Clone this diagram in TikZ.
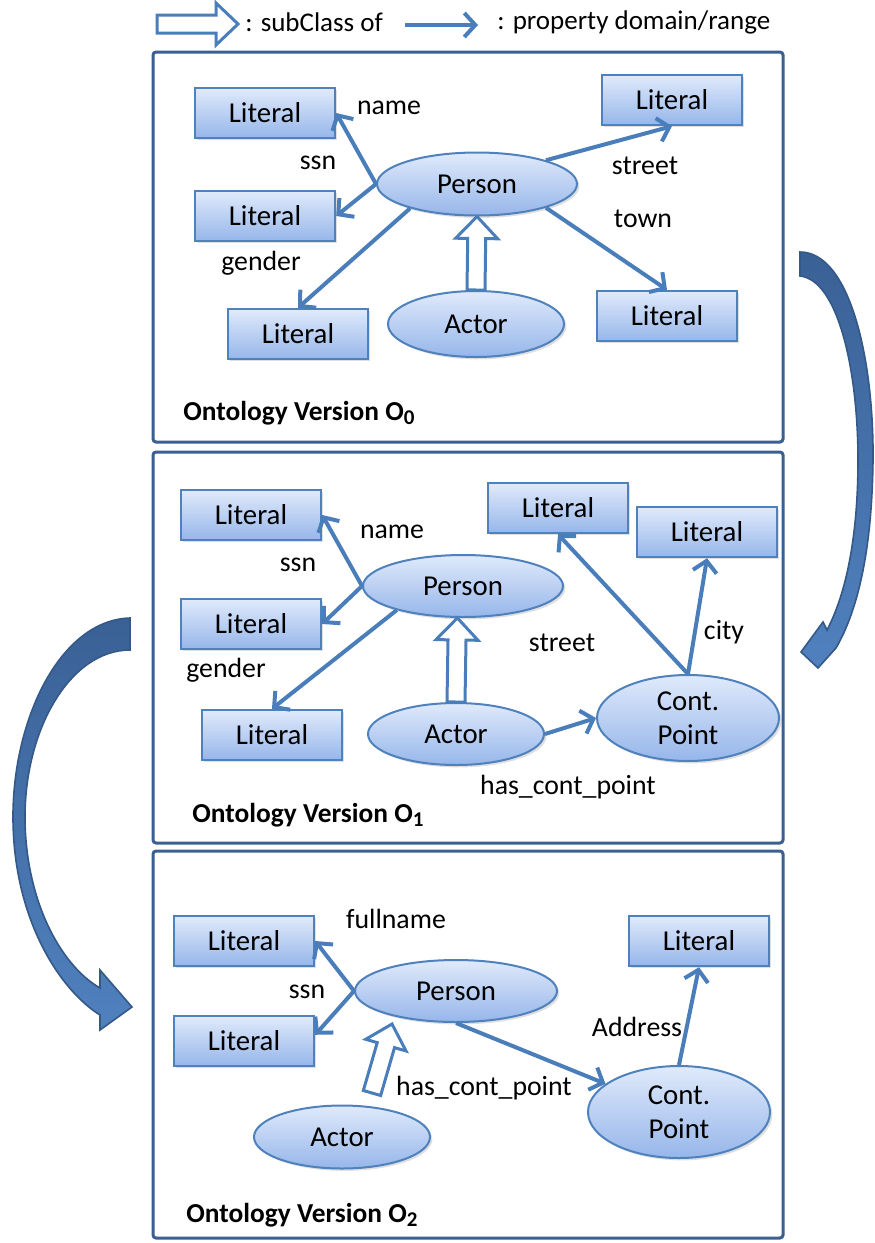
\documentclass[tikz,border=0pt]{standalone}
\usepackage{fontspec}
\setmainfont{Carlito}
\usetikzlibrary{shapes.geometric,arrows.meta,calc,shadows}
\definecolor{panel}{RGB}{59,95,145}
\definecolor{boxline}{RGB}{79,129,189}
\definecolor{boxtop}{RGB}{224,234,251}
\definecolor{boxbot}{RGB}{150,182,234}
\definecolor{edge}{RGB}{74,126,187}
\definecolor{bigtop}{RGB}{58,97,150}
\definecolor{bigbot}{RGB}{80,129,190}
\definecolor{bigline}{RGB}{52,88,135}
\newcommand\subarrow[2]{%
  \path (#1) coordinate (sa) (#2) coordinate (ta);
  \path ($(ta)!11pt!(sa)$) coordinate (ha);
  \draw[subcls] ($(sa)!4.5pt!90:(ta)$) -- ($(ha)!4.5pt!90:(ta)$) -- ($(ha)!10.5pt!90:(ta)$) -- (ta)
    -- ($(ha)!10.5pt!-90:(ta)$) -- ($(ha)!4.5pt!-90:(ta)$) -- ($(sa)!4.5pt!-90:(ta)$) -- cycle;}
\tikzset{
  lit/.style={draw=boxline, line width=1.2pt, top color=boxtop, bottom color=boxbot,
    minimum width=70pt, minimum height=25pt, inner sep=0pt, font=\fontsize{14.4pt}{17pt}\selectfont,
    drop shadow={opacity=0.25, shadow xshift=1.2pt, shadow yshift=-1.2pt}},
  cls/.style={ellipse, draw=boxline, line width=1pt, top color=boxtop, bottom color=boxbot,
    inner sep=0pt, align=center, font=\fontsize{14.4pt}{17pt}\selectfont,
    drop shadow={opacity=0.25, shadow xshift=1.2pt, shadow yshift=-1.2pt}},
  rel/.style={draw=edge, line width=2pt, -{Straight Barb[length=5.5pt,width=12pt]}},
  lbl/.style={inner sep=0pt},
  frame/.style={draw=panel, line width=1.5pt, rounded corners=1.5pt},
  subcls/.style={draw=edge, fill=white, line width=1.5pt, line join=miter},
  big/.style={draw=bigline, line width=0.8pt, top color=bigtop, bottom color=bigbot},
  ttl/.style={inner sep=0pt, anchor=west, font=\fontsize{13.7pt}{17pt}\selectfont\bfseries}
}
\newcommand\sub[1]{\raisebox{-0.3ex}{\fontsize{10.5pt}{12pt}\selectfont #1}}
\begin{document}
\begin{tikzpicture}[x=0.5pt, y=0.5pt, font=\fontsize{13.9pt}{17pt}\selectfont]
\useasboundingbox (0,0) rectangle (874,-1243);

% legend
\coordinate (lh1) at (157,-24);
\coordinate (lh2) at (238,-24);
\subarrow{lh1}{lh2}
\node[lbl, anchor=west, font=\fontsize{13.5pt}{16pt}\selectfont] (lg1) at (245,-22) {: subClass of};
\coordinate (ll1) at (405,-25);
\coordinate (ll2) at (478,-25);
\draw[rel] (ll1) -- (ll2);
\node[lbl, anchor=west, font=\fontsize{13.5pt}{16pt}\selectfont] (lg2) at (497,-22) {: property domain/range};

% panels
\draw[frame] (153,-52) rectangle (783,-442);
\draw[frame] (153,-452) rectangle (783,-843);
\draw[frame] (153,-851) rectangle (783,-1238);

% ---------- panel 1 ----------
\node[lit] (a1) at (265,-113) {Literal};
\node[lit] (b1) at (265,-216) {Literal};
\node[lit] (c1) at (298,-334) {Literal};
\node[lit] (d1) at (672,-100) {Literal};
\node[lit] (e1) at (667,-316) {Literal};
\node[cls, minimum width=100pt, minimum height=31.5pt] (p1) at (477,-184) {Person};
\node[cls, minimum width=88pt, minimum height=33pt] (r1) at (476,-324) {Actor};
\draw[rel] (p1.west) -- (a1.east);
\draw[rel] (p1.west) -- (b1.east);
\draw[rel] (p1.200) -- (c1.north);
\draw[rel] (p1.19) -- (d1.south);
\draw[rel] (p1.-19) -- (e1.north);
\subarrow{r1.north}{p1.south}
\node[lbl] (n1) at (389,-108) {name};
\node[lbl] (s1) at (318,-163) {ssn};
\node[lbl] (g1) at (261,-263) {gender};
\node[lbl] (st1) at (645,-166) {street};
\node[lbl] (t1) at (643,-219) {town};
\node[ttl] (T1) at (183,-413) {Ontology Version O\sub{0}};

% ---------- panel 2 ----------
\node[lit] (a2) at (251,-515) {Literal};
\node[lit] (b2) at (251,-624) {Literal};
\node[lit] (c2) at (272,-735) {Literal};
\node[lit] (d2) at (558,-508) {Literal};
\node[lit] (e2) at (707,-532) {Literal};
\node[cls, minimum width=100pt, minimum height=31pt] (p2) at (463,-586) {Person};
\node[cls, minimum width=88pt, minimum height=31pt] (r2) at (456,-734) {Actor};
\node[cls, minimum width=91pt, minimum height=43pt] (q2) at (688,-718) {Cont.\\Point};
\draw[rel] (p2.west) -- (a2.east);
\draw[rel] (p2.west) -- (b2.east);
\draw[rel] (p2.200) -- (c2.north);
\draw[rel] (q2.north) -- (d2.south);
\draw[rel] (q2.north) -- (e2.south);
\draw[rel] (r2.east) -- (q2.west);
\subarrow{r2.north}{p2.260}
\node[lbl] (n2) at (392,-532) {name};
\node[lbl] (s2) at (298,-565) {ssn};
\node[lbl] (g2) at (226,-670) {gender};
\node[lbl] (st2) at (562,-643) {street};
\node[lbl] (ct2) at (724,-632) {city};
\node[lbl] (h2) at (568,-787) {has\_cont\_point};
\node[ttl] (T2) at (192,-815) {Ontology Version O\sub{1}};

% ---------- panel 3 ----------
\node[lit] (a3) at (244,-941) {Literal};
\node[lit] (b3) at (244,-1041) {Literal};
\node[lit] (c3) at (699,-941) {Literal};
\node[cls, minimum width=101pt, minimum height=31pt] (p3) at (456,-991) {Person};
\node[cls, minimum width=88pt, minimum height=31.5pt] (r3) at (342,-1137) {Actor};
\node[cls, minimum width=91pt, minimum height=46pt] (q3) at (679,-1112) {Cont.\\Point};
\draw[rel] (p3.west) -- (a3.east);
\draw[rel] (p3.west) -- (b3.5);
\draw[rel] (p3.south) -- (q3.159);
\draw[rel] (q3.north) -- (c3.south);
\coordinate (h3s) at (372,-1093);
\coordinate (h3t) at (392,-1024);
\subarrow{h3s}{h3t}
\node[lbl] (n3) at (396,-919) {fullname};
\node[lbl] (s3) at (307,-992) {ssn};
\node[lbl] (ad3) at (637,-1027) {Address};
\node[lbl] (h3) at (484,-1088) {has\_cont\_point};
\node[ttl] (T3) at (186,-1215) {Ontology Version O\sub{2}};

% ---------- big curved arrows ----------
\path[big] (800,-252) .. controls (850,-252) and (874,-360) .. (873,-460)
  .. controls (872,-550) and (858,-610) .. (836,-648)
  -- (818,-668) -- (801,-652) -- (823,-622) -- (827,-630)
  .. controls (848,-590) and (858,-530) .. (858,-460)
  .. controls (858,-370) and (838,-280) .. (800,-276) -- cycle;
\path[big] (130,-618) .. controls (60,-620) and (12,-720) .. (13,-820)
  .. controls (14,-920) and (60,-990) .. (100,-1015)
  -- (100,-1030) -- (132,-1007) -- (100,-970) -- (100,-988)
  .. controls (60,-965) and (26,-900) .. (25,-820)
  .. controls (24,-730) and (70,-650) .. (130,-650) -- cycle;
\end{tikzpicture}
\end{document}
